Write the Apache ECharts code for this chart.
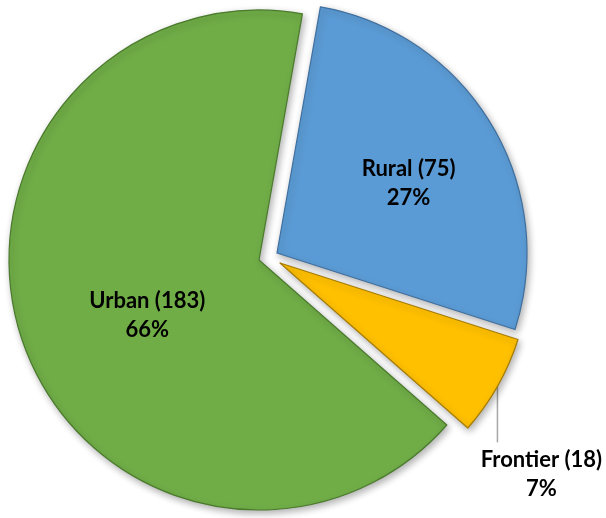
<!DOCTYPE html>
<html><head><meta charset="utf-8">
<script src="https://cdn.jsdelivr.net/npm/echarts@6/dist/echarts.min.js"></script>
<style>html,body{margin:0;padding:0;background:#fff}#c{width:606px;height:518px}</style>
</head><body><div id="c"></div>
<script>
// ---- data ----
const categories = ['Rural', 'Frontier', 'Urban'];
const values = [75, 18, 183];

// ---- styles / layout (not data) ----
const fills = ['#5B9BD5', '#FFC000', '#70AD47'];
const edges = ['#3F6F9E', '#A67C00', '#4A7A2C'];
const sliceCenters = [[277, 253], [280, 263], [259, 260]];
const labelShift = [[22, -4], null, [9, 13]];
const drawOrder = [2, 0, 1];

const chart = echarts.init(document.getElementById('c'), null, {renderer: 'canvas'});

const series = drawOrder.map(k => ({
  type: 'pie',
  radius: 250,
  center: sliceCenters[k],
  startAngle: 80,
  clockwise: true,
  avoidLabelOverlap: false,
  silent: true,
  animation: false,
  percentPrecision: 0,
  emphasis: {disabled: true},
  label: {
    position: k === 1 ? 'outside' : 'inside',
    formatter: '{b} ({c})\n{d}%',
    fontFamily: 'Lato',
    fontWeight: 'bold',
    fontSize: 22,
    lineHeight: 29,
    color: '#000',
    align: 'center'
  },
  labelLine: {
    show: k === 1, length: 56, length2: 0, smooth: false,
    lineStyle: {color: '#A6A6A6', width: 1.5}
  },
  labelLayout: function (p) {
    if (p.dataIndex !== k) return {};
    if (k === 1) {
      const a = p.labelLinePoints && p.labelLinePoints[0];
      if (!a) return {};
      return {
        x: a[0] + 44, y: a[1] + 88, align: 'center', verticalAlign: 'middle',
        labelLinePoints: [[a[0], a[1]], [a[0], a[1] + 56]]
      };
    }
    return {dx: labelShift[k][0], dy: labelShift[k][1]};
  },
  data: categories.map((n, i) => ({
    name: n,
    value: values[i],
    itemStyle: i === k ? {
      color: fills[i], borderColor: edges[i], borderWidth: 1.2,
      shadowBlur: 7, shadowOffsetX: 2, shadowOffsetY: 3, shadowColor: 'rgba(0,0,0,0.3)'
    } : {color: 'rgba(0,0,0,0)', borderWidth: 0, shadowBlur: 0},
    label: {show: i === k},
    labelLine: {show: i === k && k === 1}
  }))
}));

chart.setOption({backgroundColor: '#fff', series: series});
</script>
</body></html>
